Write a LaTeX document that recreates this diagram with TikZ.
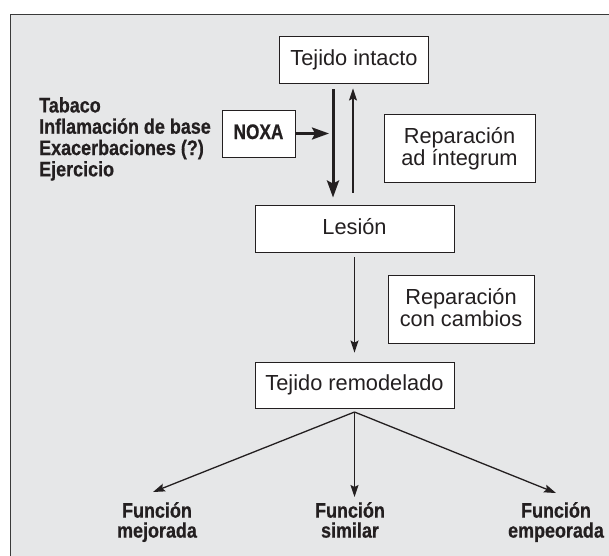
\documentclass[tikz,border=0pt]{standalone}
\usepackage{fontspec}
\setmainfont{Liberation Sans}
\newfontfamily\condb[FakeStretch=0.855,FakeBold=0.6]{Liberation Sans Bold}
\newfontfamily\condnoxa[FakeStretch=0.82,FakeBold=0.6]{Liberation Sans Bold}
\usetikzlibrary{arrows.meta}
\definecolor{bgc}{HTML}{E6E7E8}
\definecolor{ink}{HTML}{231F20}
\definecolor{framec}{HTML}{3A3A3A}
\tikzset{
  box/.style={draw=ink, line width=0.9pt, fill=white, inner sep=0pt, text=ink,
    font=\fontsize{21.8}{21.8}\selectfont, align=center},
  onebox/.style={box, text height=15.6pt, text depth=4.6pt},
  lbl/.style={text=ink, font=\fontsize{21}{20}\selectfont\condb, align=center,
    inner sep=0pt, anchor=north},
  thinarr/.style={draw=ink, line width=1.3pt, -{Stealth[length=12pt,width=8pt,inset=2pt]}},
  thickarr/.style={draw=ink, line width=3pt, -{Stealth[length=17pt,width=12pt,inset=3pt]}},
}
\begin{document}
\begin{tikzpicture}[x=1pt,y=-1pt]
\useasboundingbox (0,0) rectangle (609,555);
% panel
\fill[bgc] (10,14) rectangle (620,570);
\draw[framec, line width=1.5pt] (10.5,570) -- (10.5,14.5) -- (620,14.5);

% boxes
\node[onebox, minimum width=149pt, minimum height=47pt] (intacto) at (354,59.5) {Tejido intacto};
\node[onebox, minimum width=73pt, minimum height=47pt, font=\fontsize{21}{21.5}\selectfont\condnoxa] (noxa) at (258.5,133.5) {NOXA};
\node[box, minimum width=151pt, minimum height=68pt] (repai) at (459.5,148.5) {Reparación\\ad íntegrum};
\node[onebox, minimum width=199pt, minimum height=47pt] (lesion) at (354.5,228.5) {Lesión};
\node[box, minimum width=146pt, minimum height=68pt] (repcc) at (461,309.5) {Reparación\\con cambios\vphantom{g}};
\node[onebox, minimum width=199pt, minimum height=46pt] (remod) at (354.5,385) {Tejido remodelado};

% causes list
\node[text=ink, font=\fontsize{21}{21.3}\selectfont\condb, align=left, inner sep=0pt,
  anchor=north west] (causas) at (39,97) {Tabaco\\Inflamación de base\\Exacerbaciones (?)\\Ejercicio};

% outcome labels
\node[lbl] (fmej) at (157,502) {Función\\mejorada};
\node[lbl] (fsim) at (350,502) {Función\\similar};
\node[lbl] (femp) at (556,502) {Función\\empeorada};

% coordinates
\coordinate (hit) at (329,133.5);
\coordinate (fan) at (354.5,412);
\coordinate (tl) at (153,492);
\coordinate (tm) at (354.5,497);
\coordinate (tr) at (556,493);

% connectors
\draw[thickarr, shorten <=6pt, shorten >=7pt] ([xshift=-21pt]intacto.south) -- ([xshift=-21.5pt]lesion.north);
\draw[thinarr, shorten <=12pt, shorten >=5pt] ([xshift=-1.5pt]lesion.north) -- ([xshift=-1pt]intacto.south);
\draw[thickarr, line width=2.6pt] (noxa.east) -- (hit);
\draw[thinarr, shorten <=5pt, shorten >=9pt] (lesion.south) -- (remod.north);
\draw[thinarr] (fan) -- (tl);
\draw[thinarr] (fan) -- (tm);
\draw[thinarr] (fan) -- (tr);
\end{tikzpicture}
\end{document}
